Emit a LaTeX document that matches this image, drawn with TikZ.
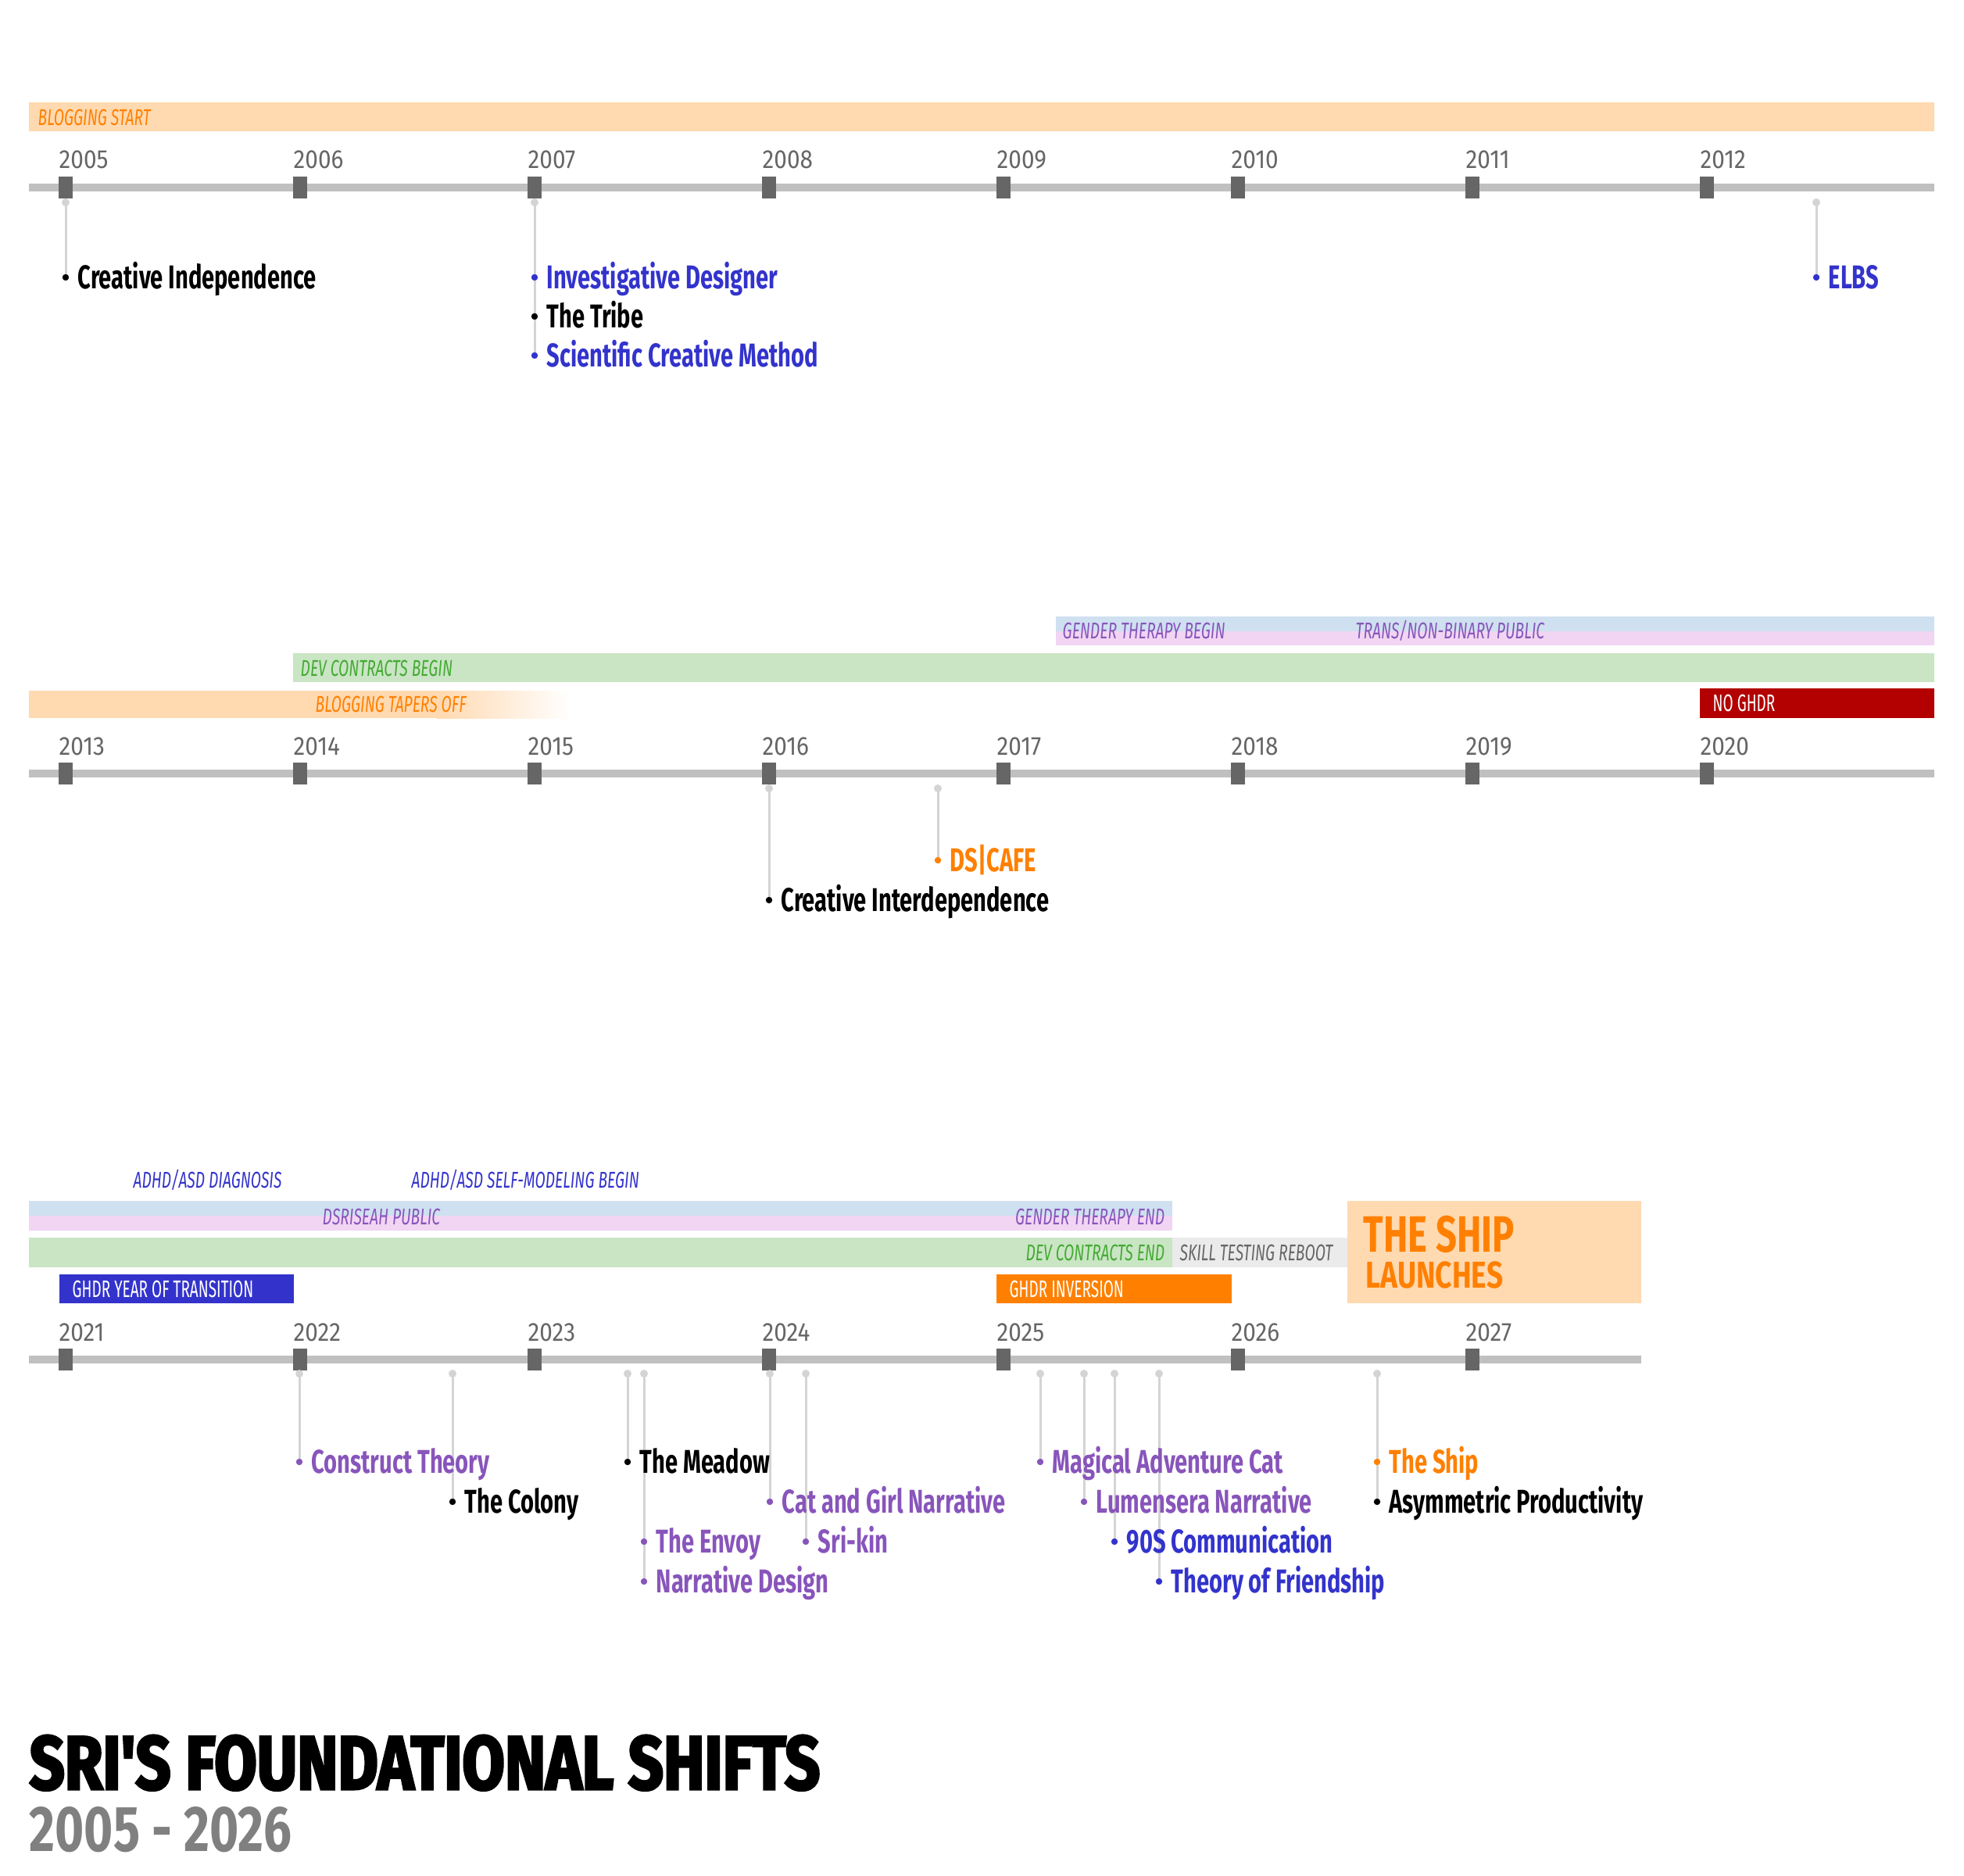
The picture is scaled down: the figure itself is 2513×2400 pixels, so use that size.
\documentclass[tikz,border=0pt]{standalone}
\usepackage{fontspec}
\setmainfont{Fira Sans}
\newfontfamily\evfont{Fira Sans}[FakeStretch=0.69]
\newfontfamily\yrfont{Fira Sans}[FakeStretch=0.89]
\newfontfamily\bandfont{Fira Sans}[FakeStretch=0.66]
\newfontfamily\boxfont{Fira Sans}[FakeStretch=0.62]
\newfontfamily\shipfont{Fira Sans}[FakeStretch=0.72]
\newfontfamily\launchfont{Fira Sans}[FakeStretch=0.775]
\newfontfamily\subfont{Fira Sans}[FakeStretch=0.77]
\newfontfamily\titlefont{Fira Sans}[FakeStretch=0.81,FakeBold=3]
\definecolor{peach}{HTML}{FFD9B0}
\definecolor{orng}{HTML}{FF8000}
\definecolor{bandgreen}{HTML}{C9E5C4}
\definecolor{txtgreen}{HTML}{44AA33}
\definecolor{bandblue}{HTML}{CFE0F0}
\definecolor{bandpink}{HTML}{F1D5F3}
\definecolor{purp}{HTML}{8855BB}
\definecolor{blu}{HTML}{3333CC}
\definecolor{redbox}{HTML}{B30000}
\definecolor{tickgray}{HTML}{666666}
\definecolor{axisgray}{HTML}{C0C0C0}
\definecolor{pingray}{HTML}{D4D4D4}
\definecolor{skillgray}{HTML}{EBEBEB}
\definecolor{subgray}{HTML}{808080}
\newcommand\evpin[3]{%
  \coordinate (pin#1) at (#1,#2);
  \coordinate (end#1) at (#1,#3);
  \draw[pinline] (pin#1) -- (end#1);
  \fill[pingray] (pin#1) circle (0.05cm);}
\newcommand\evlbl[5]{%
  \fill[#4] (#2,#3) circle (0.042cm);
  \node[ev,text=#4] (#1) at (#2+15,#3) {#5};}
\begin{document}
\begin{tikzpicture}[x=0.01cm,y=-0.01cm,
  axisline/.style={axisgray,line width=0.1cm},
  yr/.style={anchor=west,inner sep=0,text height=0.23cm,text depth=0pt,text=tickgray,font=\yrfont\fontsize{9.5}{11}\selectfont},
  ev/.style={anchor=west,inner sep=0,text height=0.29cm,text depth=0pt,font=\evfont\bfseries\fontsize{12}{14}\selectfont},
  bandlbl/.style={anchor=west,inner sep=0,text height=0.2cm,text depth=0pt,font=\bandfont\itshape\fontsize{8.3}{10}\selectfont},
  boxlbl/.style={anchor=west,inner sep=0,text height=0.21cm,text depth=0pt,text=white,font=\boxfont\fontsize{8.7}{10}\selectfont},
  pinline/.style={pingray,line width=0.03cm},
]
\useasboundingbox (0,0) rectangle (2513,2400);
\fill[white] (0,0) rectangle (2513,2400);

% ================= ROW 1 =================
\fill[peach] (37,131) rectangle (2475,168);
\node[bandlbl,text=orng] (blogstart) at (48,150) {BLOGGING START};
\draw[axisline] (37,240) -- (2475,240);
\foreach \i [evaluate=\i as \yr using int(2005+\i)] in {0,...,7} {
  \fill[tickgray] ({84+300*\i-9},226) rectangle ({84+300*\i+9},254);
  \node[yr] (y\yr) at ({84+300*\i-9},204) {\yr};
}
\evpin{84}{259}{355}
\evlbl{creatind}{84}{355}{black}{Creative Independence}
\evpin{684}{259}{455}
\evlbl{invdes}{684}{355}{blu}{Investigative Designer}
\evlbl{tribe}{684}{405}{black}{The Tribe}
\evlbl{scicm}{684}{455}{blu}{Scientific Creative Method}
\evpin{2324}{259}{355}
\evlbl{elbs}{2324}{355}{blu}{ELBS}

% ================= ROW 2 =================
\fill[bandblue] (1351,789) rectangle (2475,808);
\fill[bandpink] (1351,808) rectangle (2475,826);
\node[bandlbl,text=purp] (gtbegin) at (1359,807) {GENDER THERAPY BEGIN};
\node[bandlbl,text=purp] (transpub) at (1734,807) {TRANS/NON-BINARY PUBLIC};
\fill[bandgreen] (375,836) rectangle (2475,873);
\node[bandlbl,text=txtgreen] (devbegin) at (384,855) {DEV CONTRACTS BEGIN};
\fill[peach] (37,884) rectangle (560,919);
\shade[left color=peach,right color=white] (559,884) rectangle (730,919);
\node[bandlbl,text=orng] (blogtaper) at (403,901) {BLOGGING TAPERS OFF};
\fill[redbox] (2175,881) rectangle (2475,919);
\node[boxlbl] (noghdr) at (2191,900) {NO GHDR};
\draw[axisline] (37,990) -- (2475,990);
\foreach \i [evaluate=\i as \yr using int(2013+\i)] in {0,...,7} {
  \fill[tickgray] ({84+300*\i-9},976) rectangle ({84+300*\i+9},1004);
  \node[yr] (y\yr) at ({84+300*\i-9},955) {\yr};
}
\evpin{984}{1009}{1152}
\evlbl{creatinter}{984}{1152}{black}{Creative Interdependence}
\evpin{1200}{1009}{1101}
\evlbl{dscafe}{1200}{1101}{orng}{DS|CAFE}

% ================= ROW 3 =================
\node[bandlbl,text=blu] (adhddiag) at (170,1510) {ADHD/ASD DIAGNOSIS};
\node[bandlbl,text=blu] (adhdself) at (526,1510) {ADHD/ASD SELF-MODELING BEGIN};
\fill[bandblue] (37,1537) rectangle (1500,1556);
\fill[bandpink] (37,1556) rectangle (1500,1575);
\node[bandlbl,text=purp] (dsripub) at (412,1557) {DSRISEAH PUBLIC};
\node[bandlbl,text=purp,anchor=east] (gtend) at (1491,1557) {GENDER THERAPY END};
\fill[bandgreen] (37,1584) rectangle (1500,1622);
\node[bandlbl,text=txtgreen,anchor=east] (devend) at (1491,1603) {DEV CONTRACTS END};
\fill[skillgray] (1500,1584) rectangle (1724,1622);
\node[bandlbl,text=tickgray] (skill) at (1509,1603) {SKILL TESTING REBOOT};
\fill[peach] (1724,1537) rectangle (2100,1668);
\node[anchor=base west,inner sep=0,text=orng,font=\shipfont\bfseries\fontsize{18.6}{20}\selectfont] (theship) at (1744,1602) {THE SHIP};
\node[anchor=base west,inner sep=0,text=orng,font=\launchfont\bfseries\fontsize{13.6}{15}\selectfont] (launches) at (1747,1648) {LAUNCHES};
\fill[blu] (76,1631) rectangle (376,1668);
\node[boxlbl] (ghdryear) at (92,1650) {GHDR YEAR OF TRANSITION};
\fill[orng] (1275,1631) rectangle (1576,1668);
\node[boxlbl] (ghdrinv) at (1291,1650) {GHDR INVERSION};
\draw[axisline] (37,1740) -- (2100,1740);
\foreach \i [evaluate=\i as \yr using int(2021+\i)] in {0,...,6} {
  \fill[tickgray] ({84+300*\i-9},1726) rectangle ({84+300*\i+9},1754);
  \node[yr] (y\yr) at ({84+300*\i-9},1705) {\yr};
}
\evpin{383}{1758}{1871}
\evpin{579}{1758}{1922}
\evpin{803}{1758}{1871}
\evpin{824}{1758}{2024}
\evpin{985}{1758}{1922}
\evpin{1031}{1758}{1973}
\evpin{1331}{1758}{1871}
\evpin{1387}{1758}{1922}
\evpin{1426}{1758}{1973}
\evpin{1483}{1758}{2024}
\evpin{1762}{1758}{1922}
\evlbl{construct}{383}{1871}{purp}{Construct Theory}
\evlbl{colony}{579}{1922}{black}{The Colony}
\evlbl{meadow}{803}{1871}{black}{The Meadow}
\evlbl{envoy}{824}{1973}{purp}{The Envoy}
\evlbl{narrdes}{824}{2024}{purp}{Narrative Design}
\evlbl{catgirl}{985}{1922}{purp}{Cat and Girl Narrative}
\evlbl{srikin}{1031}{1973}{purp}{Sri-kin}
\evlbl{magcat}{1331}{1871}{purp}{Magical Adventure Cat}
\evlbl{lumen}{1387}{1922}{purp}{Lumensera Narrative}
\evlbl{nineties}{1426}{1973}{blu}{90S Communication}
\evlbl{friend}{1483}{2024}{blu}{Theory of Friendship}
\evlbl{ship}{1762}{1871}{orng}{The Ship}
\evlbl{asym}{1762}{1922}{black}{Asymmetric Productivity}

% ================= TITLE =================
\node[anchor=base west,inner sep=0,font=\titlefont\bfseries\fontsize{27.7}{30}\selectfont] (title) at (37,2290) {SRI'S FOUNDATIONAL SHIFTS};
\node[anchor=base west,inner sep=0,text=subgray,font=\subfont\bfseries\fontsize{23.5}{26}\selectfont] (subtitle) at (37,2369) {2005 - 2026};
\end{tikzpicture}
\end{document}
